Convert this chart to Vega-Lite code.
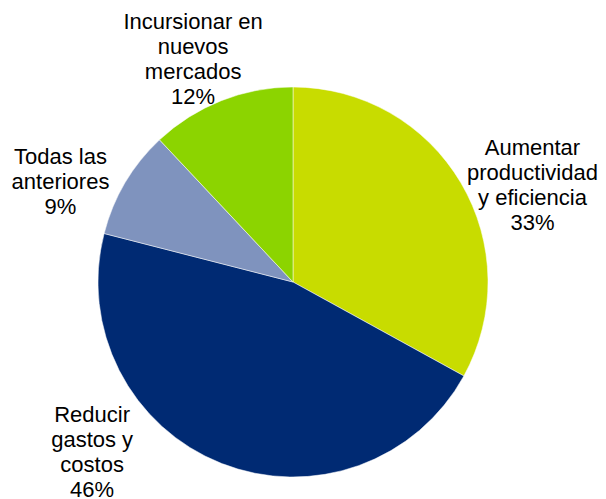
{
  "$schema": "https://vega.github.io/schema/vega-lite/v6.json",
  "width": 586,
  "height": 434,
  "autosize": "none",
  "padding": {"left": 0, "top": 65, "right": 20, "bottom": 0},
  "background": "white",
  "data": {
    "values": [
      {"order": 1, "cat": "Aumentar productividad y eficiencia", "text": "Aumentar\nproductividad\ny eficiencia\n33%", "pct": 33},
      {"order": 2, "cat": "Reducir gastos y costos", "text": "Reducir\ngastos y\ncostos\n46%", "pct": 46},
      {"order": 3, "cat": "Todas las anteriores", "text": "Todas las\nanteriores\n9%", "pct": 9},
      {"order": 4, "cat": "Incursionar en nuevos mercados", "text": "Incursionar en\nnuevos\nmercados\n12%", "pct": 12}
    ]
  },
  "encoding": {
    "theta": {"field": "pct", "type": "quantitative", "stack": true},
    "order": {"field": "order", "type": "quantitative"}
  },
  "layer": [
    {
      "mark": {"type": "arc", "radius": 195, "stroke": "white", "strokeWidth": 0.5},
      "encoding": {
        "color": {
          "field": "cat",
          "type": "nominal",
          "scale": {
            "domain": ["Aumentar productividad y eficiencia", "Reducir gastos y costos", "Todas las anteriores", "Incursionar en nuevos mercados"],
            "range": ["#c8dc00", "#002a73", "#7f93be", "#8cd400"]
          },
          "legend": null
        }
      }
    },
    {
      "mark": {"type": "text", "radius": 255, "dx": 20, "dy": -4, "font": "Liberation Sans", "fontSize": 22, "lineHeight": 25, "lineBreak": "\n", "align": "center", "baseline": "middle", "color": "black"},
      "encoding": {"text": {"condition": {"test": "datum.order === 1", "field": "text"}, "value": ""}}
    },
    {
      "mark": {"type": "text", "radius": 255, "dx": -107, "dy": -104, "font": "Liberation Sans", "fontSize": 22, "lineHeight": 25, "lineBreak": "\n", "align": "center", "baseline": "middle", "color": "black"},
      "encoding": {"text": {"condition": {"test": "datum.order === 2", "field": "text"}, "value": ""}}
    },
    {
      "mark": {"type": "text", "radius": 255, "dx": -13, "dy": 5, "font": "Liberation Sans", "fontSize": 22, "lineHeight": 25, "lineBreak": "\n", "align": "center", "baseline": "middle", "color": "black"},
      "encoding": {"text": {"condition": {"test": "datum.order === 3", "field": "text"}, "value": ""}}
    },
    {
      "mark": {"type": "text", "radius": 255, "dx": -6, "dy": -23, "font": "Liberation Sans", "fontSize": 22, "lineHeight": 25, "lineBreak": "\n", "align": "center", "baseline": "middle", "color": "black"},
      "encoding": {"text": {"condition": {"test": "datum.order === 4", "field": "text"}, "value": ""}}
    }
  ],
  "config": {"view": {"stroke": null}}
}
